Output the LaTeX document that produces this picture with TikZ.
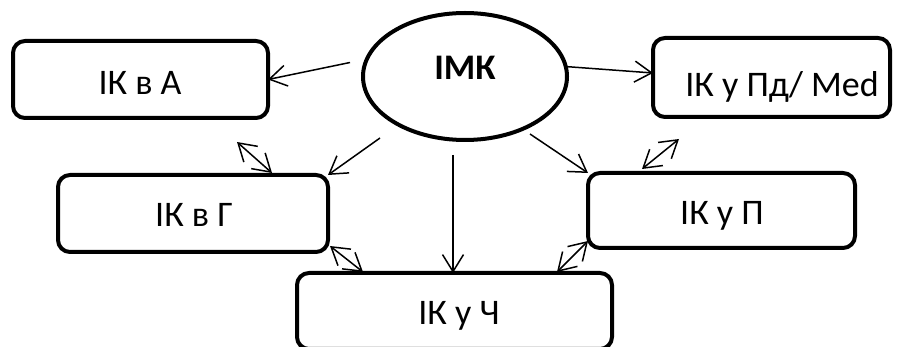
\documentclass[tikz,border=0pt]{standalone}
\usepackage{fontspec}
\setmainfont{Carlito}
\usetikzlibrary{arrows.meta,shapes.geometric}
\begin{document}
\begin{tikzpicture}[x=1pt,y=-1pt,
  box/.style={draw, rectangle, line width=4pt, rounded corners=12pt,
    inner sep=0pt, outer sep=0pt},
  oval/.style={draw, ellipse, line width=4pt, inner sep=0pt, outer sep=0pt},
  lbl/.style={anchor=base, inner sep=0pt, font=\fontsize{36}{40}\selectfont},
  blbl/.style={lbl, font=\fontsize{36}{40}\selectfont\bfseries},
  tip/.tip={Straight Barb[length=17pt, width=21pt, line width=1.5pt]},
  one/.style={line width=1.5pt, -tip},
  two/.style={line width=1.5pt, tip-tip}]
\useasboundingbox (0,0) rectangle (903,347);
\clip (0,0) rectangle (903,347);

% boxes and the central oval
\node[box, minimum width=255pt, minimum height=77pt] (ika) at (140.5,79.5) {};
\node[box, minimum width=237pt, minimum height=79pt] (ikpd) at (771.5,77.5) {};
\node[box, minimum width=270pt, minimum height=77pt] (ikg) at (193,213.5) {};
\node[box, minimum width=267pt, minimum height=75pt] (ikp) at (721.5,210.5) {};
\node[box, minimum width=315pt, minimum height=76pt] (ikch) at (454.5,311) {};
\node[oval, minimum width=204pt, minimum height=127pt] (imk) at (465,76.5) {};

% labels
\node[blbl] (timk) at (465,80) {ІМК};
\node[lbl] (ta) at (140,95) {ІК в А};
\node[lbl] (tpd) at (782,97) {ІК у Пд/ Med};
\node[lbl] (tg) at (194,227) {ІК в Г};
\node[lbl] (tp) at (722,225) {ІК у П};
\node[lbl] (tch) at (459,325) {ІК у Ч};

% from the centre outwards
\draw[one] ([shift={(-13,-14)}]imk.west) -- (ika.east);
\draw[one] ([shift={(-2,-10)}]imk.east) -- ([yshift=4.5]ikpd.west);
\draw[one] ([shift={(-85,-2)}]imk.south) -- (ikg.north east);
\draw[one] ([shift={(65,-6)}]imk.south) -- (ikp.north west);
\draw[one] ([shift={(-12,15)}]imk.south) -- ([xshift=-1.5]ikch.north);

% links between neighbouring boxes
\draw[two] ([shift={(96.5,24)}]ika.south) -- ([shift={(79,-2)}]ikg.north);
\draw[two] ([shift={(2,-6)}]ikg.south east) -- ([shift={(66,-1)}]ikch.north west);
\draw[two] ([shift={(-92.5,22)}]ikpd.south) -- ([shift={(-79.5,-4)}]ikp.north);
\draw[two] ([shift={(0,-7)}]ikp.south west) -- ([shift={(-55,-1)}]ikch.north east);
\end{tikzpicture}
\end{document}
